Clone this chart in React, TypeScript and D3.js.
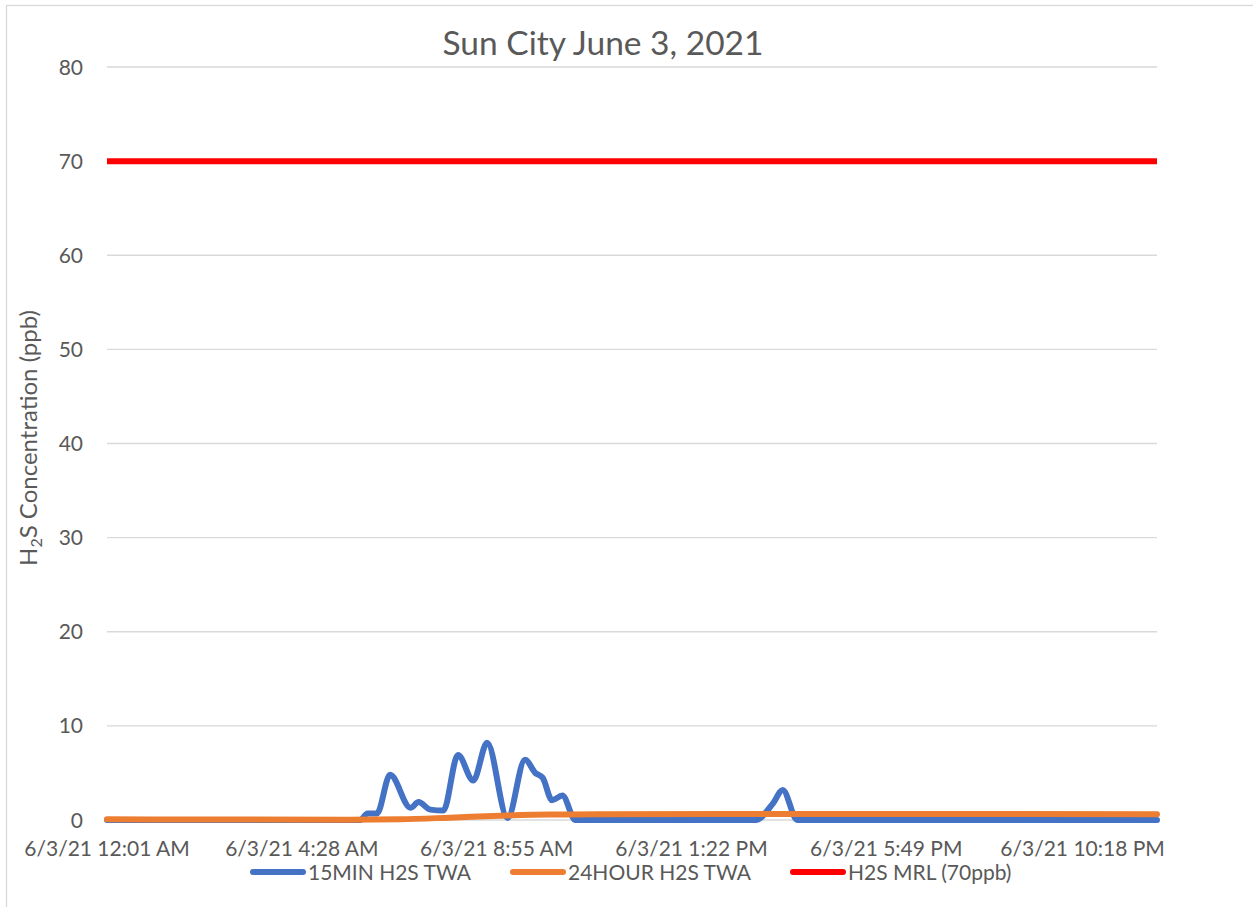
import React from "react";
import * as d3 from "d3";

const titleText = "Sun City June 3, 2021";

const fifteenMinTimes = [
  "00:01", "05:48", "05:58", "06:11", "06:29", "06:57", "07:08", "07:24", "07:42",
  "08:02", "08:23", "08:42", "09:10", "09:34", "09:48", "09:58", "10:11", "10:25",
  "10:43", "14:50", "15:14", "15:27", "15:47", "24:00",
];
const fifteenMinValues = [
  0, 0, 0.7, 0.7, 4.8, 1.3, 1.9, 1.1, 1.0,
  6.9, 4.2, 8.2, 0.2, 6.4, 5.0, 4.5, 2.1, 2.6,
  0, 0, 1.8, 3.2, 0, 0,
];

const twentyFourHourTimes = ["00:01", "02:00", "05:30", "06:43", "07:51", "09:00", "10:08", "11:17", "15:38", "24:00"];
const twentyFourHourValues = [0.08, 0.05, 0.03, 0.08, 0.25, 0.45, 0.58, 0.6, 0.65, 0.6];

const mrlTimes = ["00:01", "24:00"];
const mrlValues = [70, 70];

const xTickTimes = ["00:01", "04:28", "08:55", "13:22", "17:49", "22:18"];
const xTickLabels = [
  "6/3/21 12:01 AM", "6/3/21 4:28 AM", "6/3/21 8:55 AM",
  "6/3/21 1:22 PM", "6/3/21 5:49 PM", "6/3/21 10:18 PM",
];
const yTicks = [0, 10, 20, 30, 40, 50, 60, 70, 80];

const seriesNames = ["15MIN H2S TWA", "24HOUR H2S TWA", "H2S MRL (70ppb)"];
const seriesColors = ["#4472C4", "#ED7D31", "#FF0000"];

const toMinutes = (t: string) => {
  const [h, m] = t.split(":").map(Number);
  return h * 60 + m;
};

const W = 1253;
const H = 907;
const plot = { left: 107, right: 1157, top: 67, bottom: 820 };
const FONT = "Lato, 'Open Sans', sans-serif";
const TEXT = "#595959";

export default function App() {
  const x = d3.scaleLinear().domain([toMinutes("00:01"), toMinutes("24:00")]).range([plot.left, plot.right]);
  const y = d3.scaleLinear().domain([0, 80]).range([plot.bottom, plot.top]);

  const mk = (times: string[], vals: number[]) => times.map((t, i) => ({ m: toMinutes(t), v: vals[i] }));
  const series = [
    mk(fifteenMinTimes, fifteenMinValues),
    mk(twentyFourHourTimes, twentyFourHourValues),
    mk(mrlTimes, mrlValues),
  ];
  const line = d3
    .line<{ m: number; v: number }>()
    .x((d) => x(d.m))
    .y((d) => y(d.v))
    .curve(d3.curveMonotoneX);

  const legendX = [251, 511, 791];
  const legendY = 872;

  return (
    <svg width={W} height={H} style={{ position: "absolute", left: 0, top: 0, display: "block", background: "#fff" }}>
      <rect x={6.5} y={5.5} width={W + 20} height={H + 20} fill="#fff" stroke="#d9d9d9" strokeWidth={1.3} />
      <text x={603} y={55} textAnchor="middle" fontFamily={FONT} fontSize={33.5} fill={TEXT}>
        {titleText}
      </text>
      {yTicks.map((t) => (
        <g key={t}>
          <line x1={plot.left} x2={plot.right} y1={y(t)} y2={y(t)} stroke="#d9d9d9" strokeWidth={1.3} />
          <text x={83} y={y(t) + 7.5} textAnchor="end" fontFamily={FONT} fontSize={21} fill={TEXT}>
            {t}
          </text>
        </g>
      ))}
      {xTickTimes.map((t, i) => (
        <text key={t} x={x(toMinutes(t))} y={856} textAnchor="middle" fontFamily={FONT} fontSize={21} fill={TEXT}>
          {xTickLabels[i]}
        </text>
      ))}
      <text transform="translate(37,438) rotate(-90)" textAnchor="middle" fontFamily={FONT} fontSize={24} fill={TEXT}>
        H
        <tspan fontSize={16} dy={5}>2</tspan>
        <tspan dy={-5}>S Concentration (ppb)</tspan>
      </text>
      {series.map((s, i) => (
        <path
          key={i}
          d={line(s) || ""}
          fill="none"
          stroke={seriesColors[i]}
          strokeWidth={6}
          strokeLinejoin="round"
          strokeLinecap={i === 2 ? "butt" : "round"}
        />
      ))}
      {seriesNames.map((n, i) => (
        <g key={n}>
          <line x1={legendX[i] + 2} x2={legendX[i] + 52} y1={legendY} y2={legendY} stroke={seriesColors[i]} strokeWidth={6} strokeLinecap="round" />
          <text x={legendX[i] + 57} y={legendY + 7.5} fontFamily={FONT} fontSize={21} fill={TEXT}>
            {n}
          </text>
        </g>
      ))}
    </svg>
  );
}
